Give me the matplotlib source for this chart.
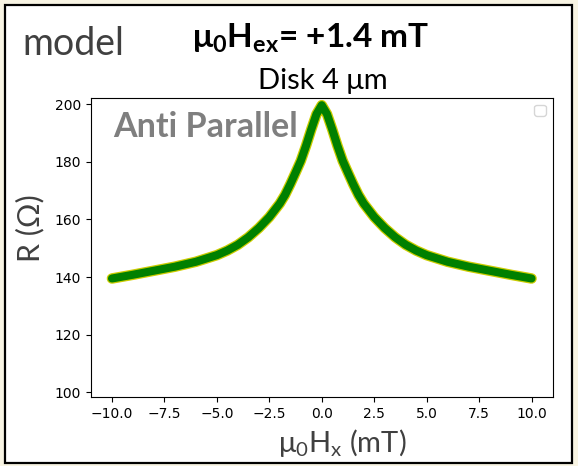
import matplotlib
matplotlib.use("Agg")
import matplotlib.pyplot as plt
from matplotlib.patches import Rectangle

# Field sweep (mT) and resistance (Ohm)
field_mT = [-10, -9, -8, -7, -6, -5, -4.5, -4, -3.5, -3, -2.5, -2, -1.75, -1.5,
            -1.25, -1, -0.75, -0.5, -0.25, 0, 0.25, 0.5, 0.75, 1, 1.25, 1.5,
            1.75, 2, 2.5, 3, 3.5, 4, 4.5, 5, 6, 7, 8, 9, 10]
resistance = [139.5, 140.8, 142.2, 143.6, 145.3, 147.6, 149.2, 151.2, 153.8,
              157.0, 160.8, 165.5, 168.5, 172.2, 176.2, 180.3, 185.5, 191.2,
              196.5, 199.6, 196.5, 191.2, 185.5, 180.3, 176.2, 172.2, 168.5,
              165.5, 160.8, 157.0, 153.8, 151.2, 149.2, 147.6, 145.3, 143.6,
              142.2, 140.8, 139.5]

W, H = 578, 466
TXT = "Lato"
plt.rcParams["mathtext.fontset"] = "custom"
plt.rcParams["mathtext.rm"] = TXT
plt.rcParams["mathtext.bf"] = TXT + ":bold"
plt.rcParams["mathtext.it"] = TXT


def fx(x):
    return x / W


def fy(y):
    return 1 - y / H


fig = plt.figure(figsize=(W / 100, H / 100), dpi=100, facecolor="#f8f4e3")

# white panel with black frame (behind the axes)
fig.patches.append(Rectangle((fx(4.5), fy(462.5)), 567 / W, 458 / H,
                             transform=fig.transFigure, facecolor="white",
                             edgecolor="black", lw=1.6, zorder=-5))

ax = fig.add_axes([fx(91), fy(397), (552.5 - 91) / W, (397 - 97.7) / H])
ax.set_zorder(2)
ax.plot(field_mT, resistance, color="#cccc00", lw=7.6,
        solid_capstyle="round", solid_joinstyle="round")
ax.plot(field_mT, resistance, color="green", lw=5.8,
        solid_capstyle="round", solid_joinstyle="round")
ax.set_xlim(-11, 11)
ax.set_ylim(98.4, 202.2)
ax.tick_params(labelsize=10)
ax.legend(loc="upper right")

ax.text(-9.95, 188.4, "Anti Parallel", family=TXT, weight="bold", size=24.5,
        color="#7f7f7f", va="baseline")

fig.text(fx(22), fy(55), "model", family=TXT, size=27, color="#404040",
         va="baseline", ha="left")
fig.text(fx(311), fy(48), r"$\mathbf{μ_0H_{ex}}$= +1.4 mT", family=TXT,
         weight="bold", size=24, color="black", va="baseline", ha="center")
fig.text(fx(323), fy(89), "Disk 4 μm", family=TXT, size=21, color="black",
         va="baseline", ha="center")
fig.text(fx(342), fy(452), r"$\mathrm{μ_0H_x}$ (mT)", family=TXT, size=21,
         color="#404040", va="baseline", ha="center")
fig.text(fx(30), fy(228), "R (Ω)", family=TXT, size=22, color="#404040",
         va="center", ha="center", rotation=90)

fig.savefig("out.png", dpi=100, facecolor=fig.get_facecolor())
